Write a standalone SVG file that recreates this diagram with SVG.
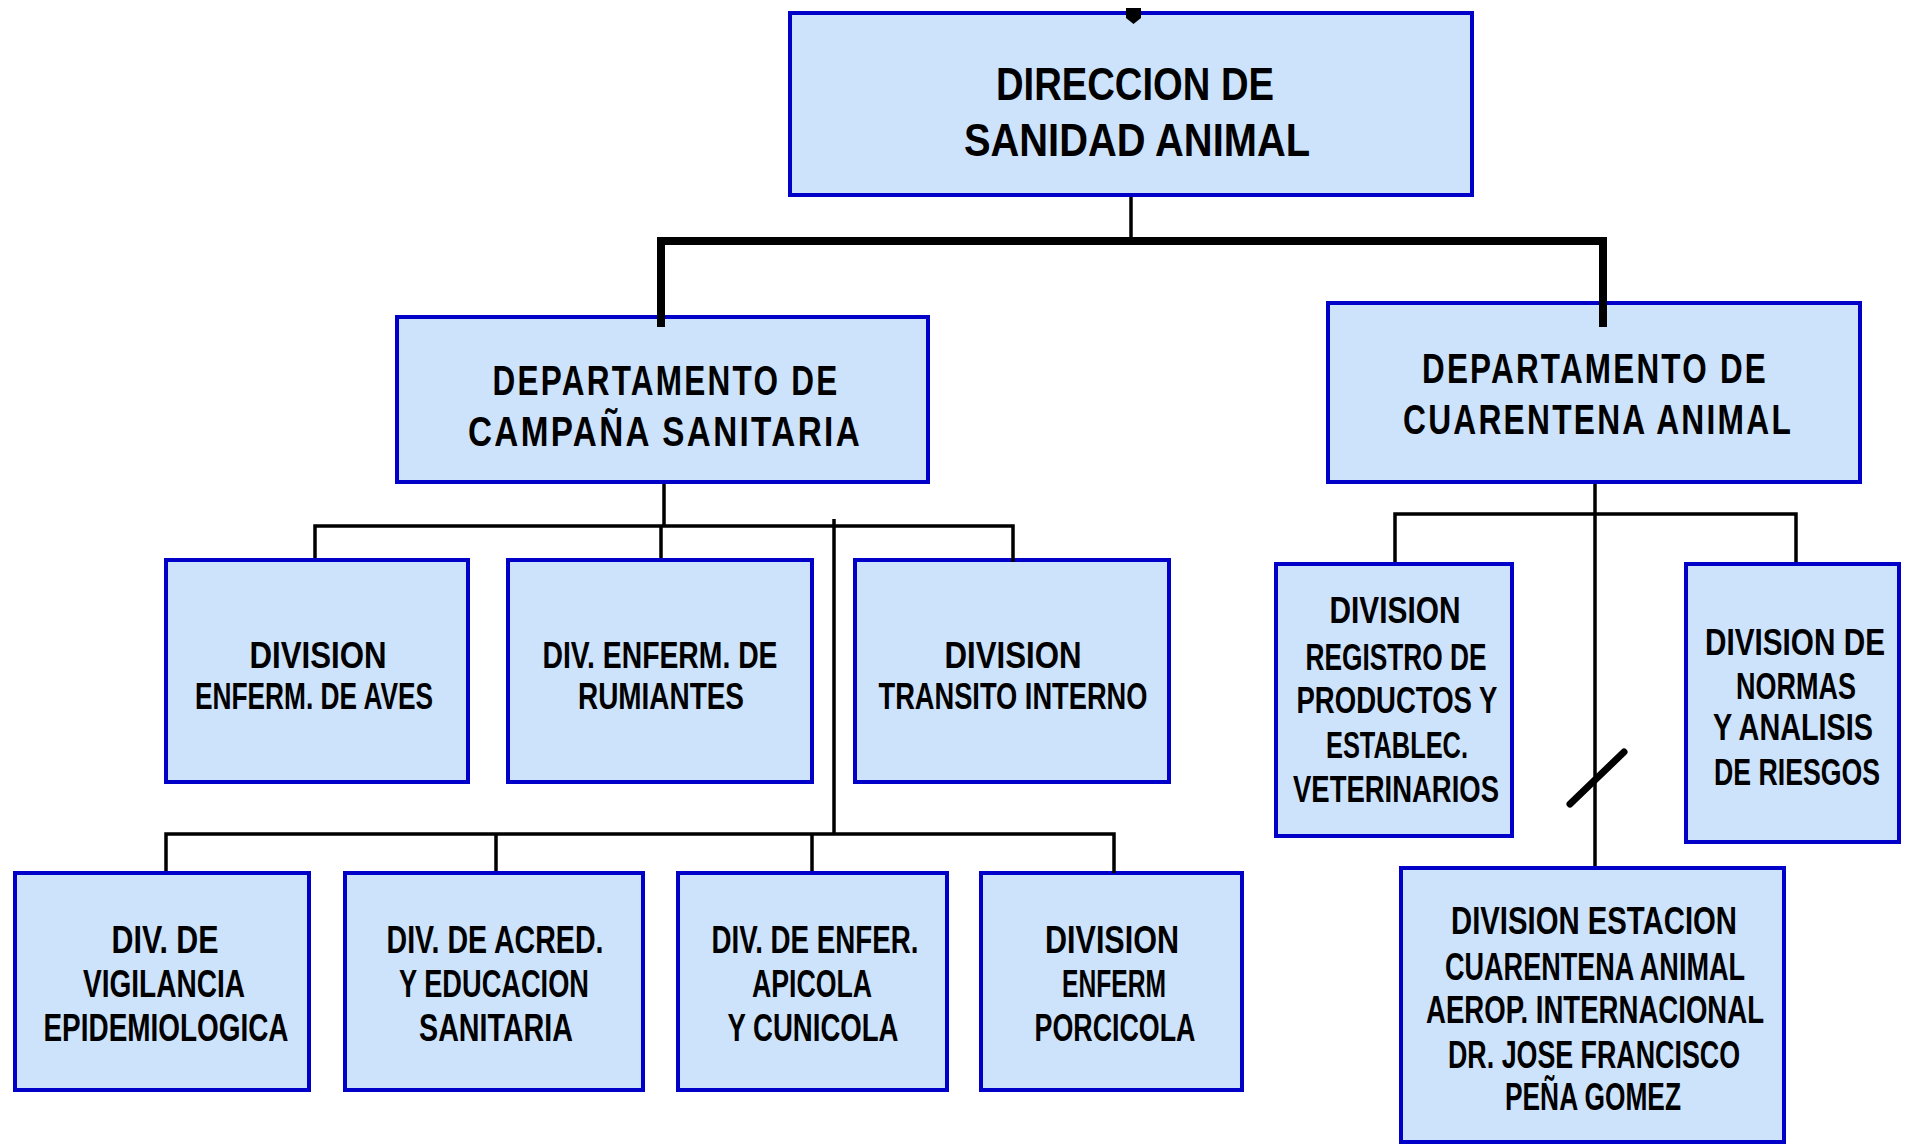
<svg xmlns="http://www.w3.org/2000/svg" width="1909" height="1144" viewBox="0 0 1909 1144">
<style>
.box{fill:#cde3fb;stroke:#0000c8;stroke-width:4}
.t{font-family:"Liberation Sans Narrow","Liberation Sans",sans-serif;font-weight:bold;fill:#000;text-anchor:middle}
.t1{font-size:46px}
.t2{font-size:42px;letter-spacing:3px}
.t3{font-size:37px}
.t4{font-size:38px}
.ln{stroke:#000;stroke-width:3.5;fill:none}
.thick{stroke:#000;stroke-width:8;fill:none}
</style>
<rect width="1909" height="1144" fill="#fff"/>
<g id="n-direccion">
<rect class="box" x="790" y="13" width="682" height="182"/>
<text class="t t1" x="1135" y="100" textLength="278" lengthAdjust="spacingAndGlyphs">DIRECCION DE</text>
<text class="t t1" x="1137" y="156" textLength="346" lengthAdjust="spacingAndGlyphs">SANIDAD ANIMAL</text>
</g>
<g id="n-campana">
<rect class="box" x="397" y="317" width="531" height="165"/>
<text class="t t2" x="666" y="395" textLength="347" lengthAdjust="spacingAndGlyphs">DEPARTAMENTO DE</text>
<text class="t t2" x="665" y="446" textLength="394" lengthAdjust="spacingAndGlyphs">CAMPAÑA  SANITARIA</text>
</g>
<g id="n-cuarentena">
<rect class="box" x="1328" y="303" width="532" height="179"/>
<text class="t t2" x="1595" y="383" textLength="346" lengthAdjust="spacingAndGlyphs">DEPARTAMENTO DE</text>
<text class="t t2" x="1598" y="434" textLength="390" lengthAdjust="spacingAndGlyphs">CUARENTENA ANIMAL</text>
</g>
<g id="n-aves">
<rect class="box" x="166" y="560" width="302" height="222"/>
<text class="t t3" x="318" y="668" textLength="137" lengthAdjust="spacingAndGlyphs">DIVISION</text>
<text class="t t3" x="314" y="709" textLength="238" lengthAdjust="spacingAndGlyphs">ENFERM. DE AVES</text>
</g>
<g id="n-rumiantes">
<rect class="box" x="508" y="560" width="304" height="222"/>
<text class="t t3" x="660" y="668" textLength="235" lengthAdjust="spacingAndGlyphs">DIV. ENFERM. DE</text>
<text class="t t3" x="661" y="709" textLength="166" lengthAdjust="spacingAndGlyphs">RUMIANTES</text>
</g>
<g id="n-transito">
<rect class="box" x="855" y="560" width="314" height="222"/>
<text class="t t3" x="1013" y="668" textLength="137" lengthAdjust="spacingAndGlyphs">DIVISION</text>
<text class="t t3" x="1013" y="709" textLength="269" lengthAdjust="spacingAndGlyphs">TRANSITO INTERNO</text>
</g>
<g id="n-vigilancia">
<rect class="box" x="15" y="873" width="294" height="217"/>
<text class="t t4" x="165" y="953" textLength="107" lengthAdjust="spacingAndGlyphs">DIV. DE</text>
<text class="t t4" x="164" y="997" textLength="162" lengthAdjust="spacingAndGlyphs">VIGILANCIA</text>
<text class="t t4" x="166" y="1041" textLength="245" lengthAdjust="spacingAndGlyphs">EPIDEMIOLOGICA</text>
</g>
<g id="n-acred">
<rect class="box" x="345" y="873" width="298" height="217"/>
<text class="t t4" x="495" y="953" textLength="217" lengthAdjust="spacingAndGlyphs">DIV. DE ACRED.</text>
<text class="t t4" x="494" y="997" textLength="190" lengthAdjust="spacingAndGlyphs">Y EDUCACION</text>
<text class="t t4" x="496" y="1041" textLength="154" lengthAdjust="spacingAndGlyphs">SANITARIA</text>
</g>
<g id="n-apicola">
<rect class="box" x="678" y="873" width="269" height="217"/>
<text class="t t4" x="815" y="953" textLength="207" lengthAdjust="spacingAndGlyphs">DIV. DE ENFER.</text>
<text class="t t4" x="812" y="997" textLength="120" lengthAdjust="spacingAndGlyphs">APICOLA</text>
<text class="t t4" x="813" y="1041" textLength="171" lengthAdjust="spacingAndGlyphs">Y CUNICOLA</text>
</g>
<g id="n-porcicola">
<rect class="box" x="981" y="873" width="261" height="217"/>
<text class="t t4" x="1112" y="953" textLength="134" lengthAdjust="spacingAndGlyphs">DIVISION</text>
<text class="t t4" x="1114" y="997" textLength="104" lengthAdjust="spacingAndGlyphs">ENFERM</text>
<text class="t t4" x="1115" y="1041" textLength="161" lengthAdjust="spacingAndGlyphs">PORCICOLA</text>
</g>
<g id="n-registro">
<rect class="box" x="1276" y="564" width="236" height="272"/>
<text class="t t3" x="1395" y="623" textLength="131" lengthAdjust="spacingAndGlyphs">DIVISION</text>
<text class="t t3" x="1396" y="670" textLength="181" lengthAdjust="spacingAndGlyphs">REGISTRO  DE</text>
<text class="t t3" x="1397" y="713" textLength="201" lengthAdjust="spacingAndGlyphs">PRODUCTOS Y</text>
<text class="t t3" x="1397" y="758" textLength="142" lengthAdjust="spacingAndGlyphs">ESTABLEC.</text>
<text class="t t3" x="1396" y="802" textLength="206" lengthAdjust="spacingAndGlyphs">VETERINARIOS</text>
</g>
<g id="n-normas">
<rect class="box" x="1686" y="564" width="213" height="278"/>
<text class="t t3" x="1795" y="655" textLength="180" lengthAdjust="spacingAndGlyphs">DIVISION DE</text>
<text class="t t3" x="1796" y="699" textLength="120" lengthAdjust="spacingAndGlyphs">NORMAS</text>
<text class="t t3" x="1793" y="740" textLength="160" lengthAdjust="spacingAndGlyphs">Y ANALISIS</text>
<text class="t t3" x="1797" y="785" textLength="166" lengthAdjust="spacingAndGlyphs">DE RIESGOS</text>
</g>
<g id="n-estacion">
<rect class="box" x="1401" y="868" width="383" height="274"/>
<text class="t t4" x="1594" y="934" textLength="286" lengthAdjust="spacingAndGlyphs">DIVISION  ESTACION</text>
<text class="t t4" x="1595" y="980" textLength="300" lengthAdjust="spacingAndGlyphs">CUARENTENA ANIMAL</text>
<text class="t t4" x="1595" y="1023" textLength="338" lengthAdjust="spacingAndGlyphs">AEROP. INTERNACIONAL</text>
<text class="t t4" x="1594" y="1068" textLength="292" lengthAdjust="spacingAndGlyphs">DR. JOSE FRANCISCO</text>
<text class="t t4" x="1593" y="1110" textLength="176" lengthAdjust="spacingAndGlyphs">PEÑA GOMEZ</text>
</g>
<g id="connectors">
<line class="ln" x1="1131" y1="197" x2="1131" y2="241"/>
<polyline class="thick" points="661,327 661,241 1603,241 1603,327"/>
<line class="ln" x1="664" y1="484" x2="664" y2="526"/>
<polyline class="ln" points="315,558 315,526 1013,526 1013,562"/>
<line class="ln" x1="661" y1="526" x2="661" y2="558"/>
<line class="ln" x1="834" y1="519" x2="834" y2="834"/>
<polyline class="ln" points="166,871 166,834 1114,834 1114,873"/>
<line class="ln" x1="496" y1="834" x2="496" y2="871"/>
<line class="ln" x1="812" y1="834" x2="812" y2="871"/>
<line class="ln" x1="1595" y1="484" x2="1595" y2="866"/>
<polyline class="ln" points="1395,562 1395,514 1796,514 1796,562"/>
<line x1="1570" y1="804" x2="1624" y2="752" stroke="#000" stroke-width="7" stroke-linecap="round"/>
<path d="M1126,8 L1141,8 L1141,18 L1133.5,24 L1126,18 Z" fill="#000"/>
</g>
</svg>
